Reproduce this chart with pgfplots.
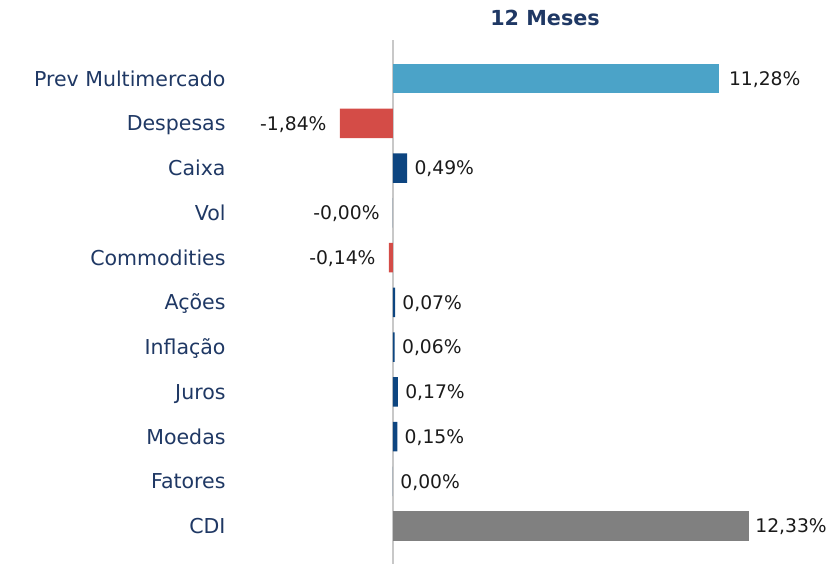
\documentclass[border=0pt]{standalone}
\usepackage{pgfplots}
\pgfplotsset{compat=1.18}
\usepackage{fontspec}
\setmainfont{DejaVu Sans}
\definecolor{lblue}{HTML}{4BA3C8}
\definecolor{cred}{HTML}{D44C47}
\definecolor{navy}{HTML}{0D4580}
\definecolor{cgray}{HTML}{808080}
\definecolor{zline}{HTML}{C8C8C8}
\definecolor{labnavy}{HTML}{1F3864}
\definecolor{valtxt}{HTML}{1A1A1A}
\begin{document}
\begin{tikzpicture}
\useasboundingbox (0,0) rectangle (413.5bp,284.5bp);
\node[font=\bfseries\fontsize{10.4}{12}\selectfont, text=labnavy] at (272.5bp,275.5bp) {12 Meses};
\begin{axis}[
  at={(115.66bp,2.48bp)}, anchor=south west,
  scale only axis, width=275.7bp, height=261.79bp,
  xmin=-5.6, xmax=13.5, ymin=-0.85, ymax=10.85,
  y dir=reverse,
  axis line style={draw=none},
  xtick=\empty,
  ytick={0,1,2,3,4,5,6,7,8,9,10},
  yticklabels={Prev Multimercado,Despesas,Caixa,Vol,Commodities,Ações,Inflação,Juros,Moedas,Fatores,CDI},
  major tick length=0pt,
  yticklabel style={anchor=east, inner sep=0pt, xshift=-2.7bp, text height=7.5bp, text depth=0pt, font=\fontsize{10.3}{12}\selectfont, text=labnavy},
  clip=false,
  xbar, bar width=14.75bp, bar shift=0pt,
]
\draw[zline, line width=0.8bp] (axis cs:0,-0.85) -- (axis cs:0,10.85);
\addplot[draw=none, fill=lblue] coordinates {(11.28,0)};
\addplot[draw=none, fill=cred] coordinates {(-1.84,1) (-0.14,4)};
\addplot[draw=none, fill=navy] coordinates {(0.49,2) (0,3) (0.07,5) (0.06,6) (0.17,7) (0.15,8) (0,9)};
\addplot[draw=none, fill=cgray] coordinates {(12.33,10)};
\begin{scope}[every node/.style={inner sep=0pt, text=valtxt, text height=6.85bp, text depth=0pt, font=\fontsize{9.4}{11}\selectfont}]
\node[anchor=west, xshift=5bp] at (axis cs:11.28,0) {11,28\%};
\node[anchor=east, xshift=-6.5bp] at (axis cs:-1.84,1) {-1,84\%};
\node[anchor=west, xshift=3.5bp] at (axis cs:0.49,2) {0,49\%};
\node[anchor=east, xshift=-6.5bp] at (axis cs:0,3) {-0,00\%};
\node[anchor=east, xshift=-6.5bp] at (axis cs:-0.14,4) {-0,14\%};
\node[anchor=west, xshift=3.5bp] at (axis cs:0.07,5) {0,07\%};
\node[anchor=west, xshift=3.5bp] at (axis cs:0.06,6) {0,06\%};
\node[anchor=west, xshift=3.5bp] at (axis cs:0.17,7) {0,17\%};
\node[anchor=west, xshift=3.5bp] at (axis cs:0.15,8) {0,15\%};
\node[anchor=west, xshift=3.5bp] at (axis cs:0,9) {0,00\%};
\node[anchor=west, xshift=3bp] at (axis cs:12.33,10) {12,33\%};
\end{scope}
\end{axis}
\end{tikzpicture}
\end{document}
